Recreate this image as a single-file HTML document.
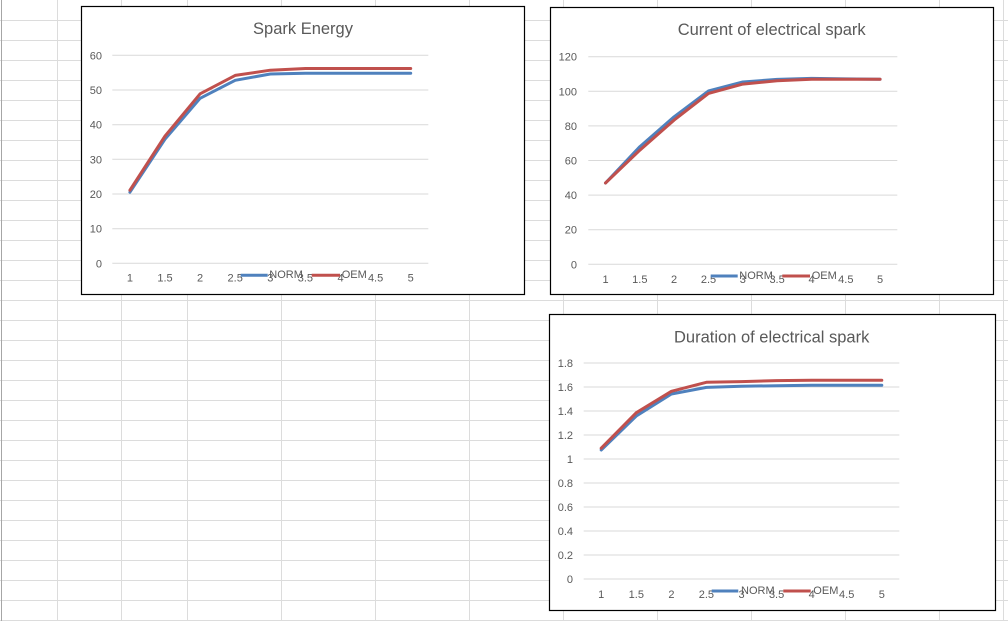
<!DOCTYPE html>
<html>
<head>
<meta charset="utf-8">
<style>
html,body{margin:0;padding:0;background:#fff;}
svg{display:block;}
text{font-family:"Liberation Sans",Arial,sans-serif;fill:#595959;}
.t{font-size:16.5px;}
.l{font-size:11px;}
</style>
</head>
<body>
<svg width="1008" height="621" viewBox="0 0 1008 621" xmlns="http://www.w3.org/2000/svg">
<!-- spreadsheet grid -->
<g stroke="#dcdcdc" stroke-width="1">
<line x1="0" y1="20.5" x2="1008" y2="20.5"/><line x1="0" y1="40.5" x2="1008" y2="40.5"/>
<line x1="0" y1="60.5" x2="1008" y2="60.5"/><line x1="0" y1="80.5" x2="1008" y2="80.5"/>
<line x1="0" y1="100.5" x2="1008" y2="100.5"/><line x1="0" y1="120.5" x2="1008" y2="120.5"/>
<line x1="0" y1="140.5" x2="1008" y2="140.5"/><line x1="0" y1="160.5" x2="1008" y2="160.5"/>
<line x1="0" y1="180.5" x2="1008" y2="180.5"/><line x1="0" y1="200.5" x2="1008" y2="200.5"/>
<line x1="0" y1="220.5" x2="1008" y2="220.5"/><line x1="0" y1="240.5" x2="1008" y2="240.5"/>
<line x1="0" y1="260.5" x2="1008" y2="260.5"/><line x1="0" y1="280.5" x2="1008" y2="280.5"/>
<line x1="0" y1="300.5" x2="1008" y2="300.5"/><line x1="0" y1="320.5" x2="1008" y2="320.5"/>
<line x1="0" y1="340.5" x2="1008" y2="340.5"/><line x1="0" y1="360.5" x2="1008" y2="360.5"/>
<line x1="0" y1="380.5" x2="1008" y2="380.5"/><line x1="0" y1="400.5" x2="1008" y2="400.5"/>
<line x1="0" y1="420.5" x2="1008" y2="420.5"/><line x1="0" y1="440.5" x2="1008" y2="440.5"/>
<line x1="0" y1="460.5" x2="1008" y2="460.5"/><line x1="0" y1="480.5" x2="1008" y2="480.5"/>
<line x1="0" y1="500.5" x2="1008" y2="500.5"/><line x1="0" y1="520.5" x2="1008" y2="520.5"/>
<line x1="0" y1="540.5" x2="1008" y2="540.5"/><line x1="0" y1="560.5" x2="1008" y2="560.5"/>
<line x1="0" y1="580.5" x2="1008" y2="580.5"/><line x1="0" y1="600.5" x2="1008" y2="600.5"/>
<line x1="0" y1="620.5" x2="1008" y2="620.5"/>
<line x1="57.5" y1="0" x2="57.5" y2="621"/><line x1="121.5" y1="0" x2="121.5" y2="621"/>
<line x1="187.5" y1="0" x2="187.5" y2="621"/><line x1="281.5" y1="0" x2="281.5" y2="621"/>
<line x1="375.5" y1="0" x2="375.5" y2="621"/><line x1="469.5" y1="0" x2="469.5" y2="621"/>
<line x1="563.5" y1="0" x2="563.5" y2="621"/><line x1="657.5" y1="0" x2="657.5" y2="621"/>
<line x1="751.5" y1="0" x2="751.5" y2="621"/><line x1="845.5" y1="0" x2="845.5" y2="621"/>
<line x1="939.5" y1="0" x2="939.5" y2="621"/><line x1="1003.5" y1="0" x2="1003.5" y2="621"/>
</g>
<line x1="1.5" y1="0" x2="1.5" y2="621" stroke="#a6a6a6" stroke-width="1"/>

<!-- ========== Chart 1: Spark Energy ========== -->
<rect x="81.5" y="6.5" width="443" height="288" fill="#fff" stroke="#000" stroke-width="1.2"/>
<text class="t" x="303" y="34" text-anchor="middle">Spark Energy</text>
<g stroke="#d9d9d9" stroke-width="1">
<line x1="112.3" y1="55.3" x2="428.3" y2="55.3"/>
<line x1="112.3" y1="90" x2="428.3" y2="90"/>
<line x1="112.3" y1="124.7" x2="428.3" y2="124.7"/>
<line x1="112.3" y1="159.3" x2="428.3" y2="159.3"/>
<line x1="112.3" y1="194" x2="428.3" y2="194"/>
<line x1="112.3" y1="228.7" x2="428.3" y2="228.7"/>
<line x1="112.3" y1="263.3" x2="428.3" y2="263.3"/>
</g>
<g text-anchor="end">
<text class="l" x="102" y="59.3">60</text>
<text class="l" x="102" y="94">50</text>
<text class="l" x="102" y="128.7">40</text>
<text class="l" x="102" y="163.3">30</text>
<text class="l" x="102" y="198">20</text>
<text class="l" x="102" y="232.7">10</text>
<text class="l" x="102" y="267.3">0</text>
</g>
<g text-anchor="middle">
<text class="l" x="129.9" y="281.6">1</text>
<text class="l" x="165" y="281.6">1.5</text>
<text class="l" x="200.1" y="281.6">2</text>
<text class="l" x="235.2" y="281.6">2.5</text>
<text class="l" x="270.3" y="281.6">3</text>
<text class="l" x="305.4" y="281.6">3.5</text>
<text class="l" x="340.5" y="281.6">4</text>
<text class="l" x="375.6" y="281.6">4.5</text>
<text class="l" x="410.7" y="281.6">5</text>
</g>
<polyline fill="none" stroke="#4F81BD" stroke-width="3" stroke-linejoin="round" stroke-linecap="round"
 points="129.9,192.2 165,139.2 200.1,98.3 235.2,80.3 270.3,74 305.4,73.3 340.5,73.3 375.6,73.3 410.7,73.3"/>
<polyline fill="none" stroke="#C0504D" stroke-width="3" stroke-linejoin="round" stroke-linecap="round"
 points="129.9,190.2 165,136.1 200.1,93.8 235.2,75.4 270.3,70.2 305.4,68.5 340.5,68.5 375.6,68.5 410.7,68.5"/>
<line x1="240.7" y1="275.3" x2="267.7" y2="275.3" stroke="#4F81BD" stroke-width="3"/>
<text class="l" x="269.3" y="278">NORM</text>
<line x1="311.7" y1="275.3" x2="340" y2="275.3" stroke="#C0504D" stroke-width="3"/>
<text class="l" x="341.7" y="278">OEM</text>

<!-- ========== Chart 2: Current ========== -->
<rect x="550.5" y="7.5" width="443" height="287" fill="#fff" stroke="#000" stroke-width="1.2"/>
<text class="t" x="771.7" y="35" text-anchor="middle">Current of electrical spark</text>
<g stroke="#d9d9d9" stroke-width="1">
<line x1="588.3" y1="56.7" x2="897.3" y2="56.7"/>
<line x1="588.3" y1="91.3" x2="897.3" y2="91.3"/>
<line x1="588.3" y1="125.9" x2="897.3" y2="125.9"/>
<line x1="588.3" y1="160.5" x2="897.3" y2="160.5"/>
<line x1="588.3" y1="195.1" x2="897.3" y2="195.1"/>
<line x1="588.3" y1="229.7" x2="897.3" y2="229.7"/>
<line x1="588.3" y1="264.3" x2="897.3" y2="264.3"/>
</g>
<g text-anchor="end">
<text class="l" x="577" y="60.7">120</text>
<text class="l" x="577" y="95.3">100</text>
<text class="l" x="577" y="129.9">80</text>
<text class="l" x="577" y="164.5">60</text>
<text class="l" x="577" y="199.1">40</text>
<text class="l" x="577" y="233.7">20</text>
<text class="l" x="577" y="268.3">0</text>
</g>
<g text-anchor="middle">
<text class="l" x="605.5" y="283.2">1</text>
<text class="l" x="639.8" y="283.2">1.5</text>
<text class="l" x="674.1" y="283.2">2</text>
<text class="l" x="708.5" y="283.2">2.5</text>
<text class="l" x="742.8" y="283.2">3</text>
<text class="l" x="777.1" y="283.2">3.5</text>
<text class="l" x="811.5" y="283.2">4</text>
<text class="l" x="845.8" y="283.2">4.5</text>
<text class="l" x="880.1" y="283.2">5</text>
</g>
<polyline fill="none" stroke="#4F81BD" stroke-width="3" stroke-linejoin="round" stroke-linecap="round"
 points="605.5,183 639.8,146.7 674.1,116.8 708.5,91 742.8,82 777.1,79.4 811.5,78.4 845.8,78.9 880.1,79.2"/>
<polyline fill="none" stroke="#C0504D" stroke-width="3" stroke-linejoin="round" stroke-linecap="round"
 points="605.5,183 639.8,150.2 674.1,120.1 708.5,93.4 742.8,84.1 777.1,80.8 811.5,79.2 845.8,79.2 880.1,79.2"/>
<line x1="710.7" y1="276" x2="737.7" y2="276" stroke="#4F81BD" stroke-width="3"/>
<text class="l" x="739.3" y="279">NORM</text>
<line x1="782.3" y1="276" x2="810" y2="276" stroke="#C0504D" stroke-width="3"/>
<text class="l" x="811.7" y="279">OEM</text>

<!-- ========== Chart 3: Duration ========== -->
<rect x="549.5" y="314.5" width="446" height="296" fill="#fff" stroke="#000" stroke-width="1.2"/>
<text class="t" x="771.7" y="342.3" text-anchor="middle">Duration of electrical spark</text>
<g stroke="#d9d9d9" stroke-width="1">
<line x1="583.7" y1="363" x2="899.3" y2="363"/>
<line x1="583.7" y1="387" x2="899.3" y2="387"/>
<line x1="583.7" y1="411" x2="899.3" y2="411"/>
<line x1="583.7" y1="435" x2="899.3" y2="435"/>
<line x1="583.7" y1="459" x2="899.3" y2="459"/>
<line x1="583.7" y1="483" x2="899.3" y2="483"/>
<line x1="583.7" y1="507" x2="899.3" y2="507"/>
<line x1="583.7" y1="531" x2="899.3" y2="531"/>
<line x1="583.7" y1="555" x2="899.3" y2="555"/>
<line x1="583.7" y1="579" x2="899.3" y2="579"/>
</g>
<g text-anchor="end">
<text class="l" x="573" y="367">1.8</text>
<text class="l" x="573" y="391">1.6</text>
<text class="l" x="573" y="415">1.4</text>
<text class="l" x="573" y="439">1.2</text>
<text class="l" x="573" y="463">1</text>
<text class="l" x="573" y="487">0.8</text>
<text class="l" x="573" y="511">0.6</text>
<text class="l" x="573" y="535">0.4</text>
<text class="l" x="573" y="559">0.2</text>
<text class="l" x="573" y="583">0</text>
</g>
<g text-anchor="middle">
<text class="l" x="601.2" y="598">1</text>
<text class="l" x="636.3" y="598">1.5</text>
<text class="l" x="671.4" y="598">2</text>
<text class="l" x="706.4" y="598">2.5</text>
<text class="l" x="741.5" y="598">3</text>
<text class="l" x="776.6" y="598">3.5</text>
<text class="l" x="811.7" y="598">4</text>
<text class="l" x="846.7" y="598">4.5</text>
<text class="l" x="881.8" y="598">5</text>
</g>
<polyline fill="none" stroke="#4F81BD" stroke-width="3" stroke-linejoin="round" stroke-linecap="round"
 points="601.2,450 636.3,416 671.4,394 706.4,387.4 741.5,386.3 776.6,385.7 811.7,385.3 846.7,385.3 881.8,385.3"/>
<polyline fill="none" stroke="#C0504D" stroke-width="3" stroke-linejoin="round" stroke-linecap="round"
 points="601.2,448.2 636.3,412.7 671.4,391.3 706.4,382.3 741.5,381.6 776.6,380.6 811.7,380.3 846.7,380.3 881.8,380.3"/>
<line x1="711.7" y1="591" x2="738.3" y2="591" stroke="#4F81BD" stroke-width="3"/>
<text class="l" x="741" y="594">NORM</text>
<line x1="783.3" y1="591" x2="810.7" y2="591" stroke="#C0504D" stroke-width="3"/>
<text class="l" x="813.3" y="594">OEM</text>
</svg>
</body>
</html>
